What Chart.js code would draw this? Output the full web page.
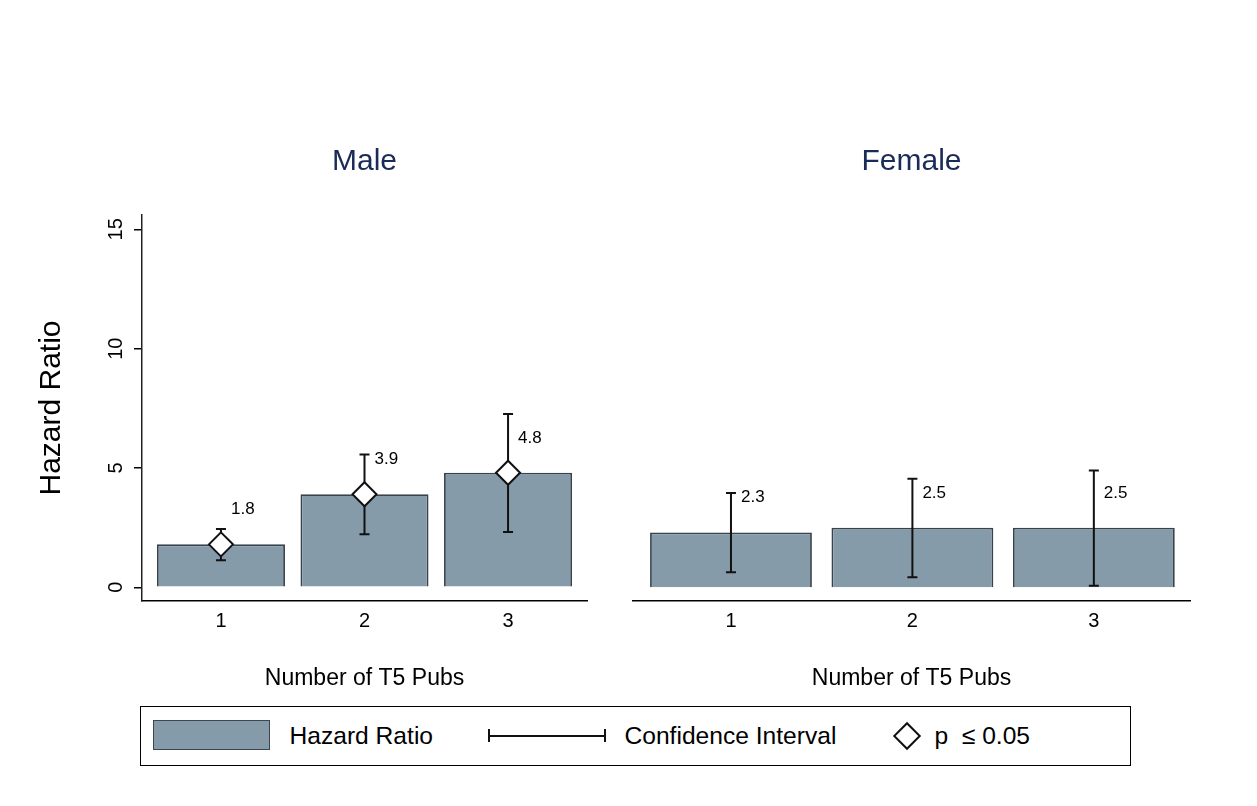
<!DOCTYPE html>
<html>
<head>
<meta charset="utf-8">
<script src="https://cdn.jsdelivr.net/npm/chart.js@4"></script>
<style>
  body { margin: 0; background: #fff; width: 1257px; height: 806px; position: relative; overflow: hidden;
         font-family: "Liberation Sans", Arial, sans-serif; }
  #wrapMale { position: absolute; left: 0; top: 120px; width: 610px; height: 580px; }
  #wrapFemale { position: absolute; left: 610px; top: 120px; width: 600px; height: 580px; }
  .legend { position: absolute; left: 140px; top: 706px; width: 991px; height: 60px; box-sizing: border-box;
            border: 1.5px solid #000; }
  .legend .txt { position: absolute; top: 28.5px; transform: translateY(-50%); font-size: 24.6px; color: #000; white-space: pre; }
  .swatch { position: absolute; left: 11.5px; top: 12.5px; width: 117px; height: 30px; box-sizing: border-box;
            background: #869baa; border: 1.5px solid #3b4650; }
  .ciline { position: absolute; left: 346.5px; top: 27.5px; width: 118px; height: 2px; background: #111; }
  .cap { position: absolute; top: 22px; width: 2px; height: 13px; background: #111; }
  .diamond { position: absolute; left: 756px; top: 18.5px; width: 20px; height: 20px; box-sizing: border-box;
             background: #fff; border: 2px solid #111; transform: rotate(45deg); }
</style>
</head>
<body>
<div id="wrapMale"><canvas id="maleChart"></canvas></div>
<div id="wrapFemale"><canvas id="femaleChart"></canvas></div>

<div class="legend">
  <div class="swatch"></div>
  <div class="txt" style="left:148.5px">Hazard Ratio</div>
  <div class="ciline"></div>
  <div class="cap" style="left:346.5px"></div>
  <div class="cap" style="left:462.5px"></div>
  <div class="txt" style="left:483.5px">Confidence Interval</div>
  <div class="diamond"></div>
  <div class="txt" style="left:793.5px">p  ≤ 0.05</div>
</div>

<script>
// data
var pubs = [1, 2, 3];
var maleHR = [1.8, 3.9, 4.8];
var maleLow = [1.13, 2.22, 2.32];
var maleHigh = [2.44, 5.56, 7.26];
var maleSig = [true, true, true];
var femaleHR = [2.3, 2.5, 2.5];
var femaleLow = [0.63, 0.42, 0.07];
var femaleHigh = [3.95, 4.55, 4.89];
var femaleSig = [false, false, false];
var yTicks = [0, 5, 10, 15];

Chart.defaults.font.family = "'Liberation Sans', Arial, sans-serif";
Chart.defaults.color = "#000";

function errorBars(hr, low, high) {
  return {
    id: "errorBars",
    afterDatasetDraw: function (chart, args) {
      if (args.index !== 0) return;
      var ctx = chart.ctx, xs = chart.scales.x, ys = chart.scales.y;
      ctx.save();
      ctx.strokeStyle = "#111";
      ctx.lineWidth = 2;
      low.forEach(function (lo, i) {
        var x = xs.getPixelForValue(pubs[i]);
        var y1 = ys.getPixelForValue(lo);
        var y2 = ys.getPixelForValue(high[i]);
        ctx.beginPath();
        ctx.moveTo(x, y1); ctx.lineTo(x, y2);
        ctx.moveTo(x - 5, y1); ctx.lineTo(x + 5, y1);
        ctx.moveTo(x - 5, y2); ctx.lineTo(x + 5, y2);
        ctx.stroke();
      });
      ctx.restore();
    },
    afterDatasetsDraw: function (chart) {
      var ctx = chart.ctx, xs = chart.scales.x, ys = chart.scales.y;
      ctx.save();
      ctx.font = "17px 'Liberation Sans', Arial, sans-serif";
      ctx.fillStyle = "#000";
      ctx.textAlign = "left";
      ctx.textBaseline = "middle";
      hr.forEach(function (v, i) {
        ctx.fillText(v.toFixed(1), xs.getPixelForValue(pubs[i]) + 10, ys.getPixelForValue(v + 1.45));
      });
      ctx.restore();
    }
  };
}

// rotated y tick labels like the original
var yLabels = {
  id: "yLabels",
  afterDraw: function (chart) {
    var ys = chart.scales.y;
    if (!ys.options.display) return;
    var ctx = chart.ctx;
    ctx.save();
    ctx.font = "20px 'Liberation Sans', Arial, sans-serif";
    ctx.fillStyle = "#000";
    ctx.textAlign = "center";
    ctx.textBaseline = "middle";
    yTicks.forEach(function (v) {
      ctx.save();
      ctx.translate(ys.right - 26, ys.getPixelForValue(v));
      ctx.rotate(-Math.PI / 2);
      ctx.fillText(String(v), 0, 0);
      ctx.restore();
    });
    ctx.restore();
  }
};

function makeChart(id, title, hr, low, high, sig, showY, xMin, xMax, pad) {
  var datasets = [{
    type: "bar",
    data: pubs.map(function (p, i) { return { x: p, y: hr[i] }; }),
    backgroundColor: "#869baa",
    borderColor: "#36424c",
    borderWidth: 1.8,
    barPercentage: 0.892,
    categoryPercentage: 1,
    order: 2
  }];
  var pts = pubs.map(function (p, i) { return { x: p, y: hr[i] }; }).filter(function (d, i) { return sig[i]; });
  if (pts.length) {
    datasets.push({
      type: "scatter",
      data: pts,
      pointStyle: "rectRot",
      pointRadius: 12,
      pointBackgroundColor: "#fff",
      pointBorderColor: "#111",
      pointBorderWidth: 2,
      order: 1
    });
  }

  return new Chart(document.getElementById(id), {
    type: "bar",
    data: { datasets: datasets },
    options: {
      responsive: true,
      maintainAspectRatio: false,
      animation: false,
      layout: { padding: pad },
      plugins: {
        legend: { display: false },
        tooltip: { enabled: false },
        title: {
          display: true,
          text: title,
          fullSize: false,
          color: "#1a2b57",
          font: { size: 30, weight: "normal" },
          padding: { top: 24, bottom: 35 }
        }
      },
      scales: {
        x: {
          type: "linear",
          offset: false,
          min: xMin,
          max: xMax,
          afterBuildTicks: function (s) { s.ticks = pubs.map(function (v) { return { value: v }; }); },
          grid: { display: false, drawTicks: false },
          border: { display: true, color: "#000", width: 1.5 },
          ticks: { font: { size: 20 }, color: "#000", padding: 8 },
          title: {
            display: true,
            text: "Number of T5 Pubs",
            font: { size: 23 },
            color: "#000",
            padding: { top: 0, bottom: 8 }
          },
          afterFit: function (s) { s.height = 99; }
        },
        y: {
          display: showY,
          min: -0.574,
          max: 15.6,
          afterBuildTicks: function (s) { s.ticks = yTicks.map(function (v) { return { value: v }; }); },
          grid: { display: true, drawOnChartArea: false, drawTicks: true, tickLength: 8, color: "#000", lineWidth: 1.5 },
          border: { display: true, color: "#222", width: 1.5 },
          ticks: { display: false },
          title: {
            display: true,
            text: "Hazard Ratio",
            font: { size: 30 },
            color: "#000",
            padding: { top: 34, bottom: 0 }
          },
          afterFit: function (s) { s.width = showY ? 142 : 0; }
        }
      }
    },
    plugins: [errorBars(hr, low, high), yLabels]
  });
}

makeChart("maleChart", "Male", maleHR, maleLow, maleHigh, maleSig, true, 0.45, 3.55,
  { left: 0, right: 23, top: 0, bottom: 0 });
makeChart("femaleChart", "Female", femaleHR, femaleLow, femaleHigh, femaleSig, false, 0.46, 3.53,
  { left: 23, right: 20, top: 0, bottom: 0 });
</script>
</body>
</html>
